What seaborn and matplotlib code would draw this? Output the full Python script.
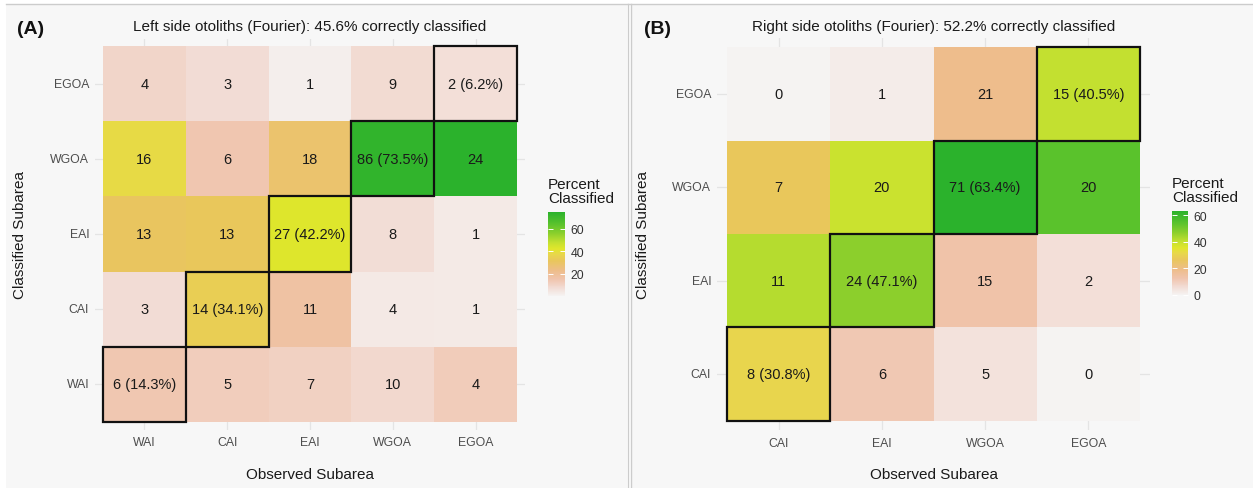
import numpy as np
import pandas as pd
import matplotlib
matplotlib.use("Agg")
import matplotlib.pyplot as plt
import seaborn as sns
from matplotlib.colors import LinearSegmentedColormap
from matplotlib.patches import Rectangle

plt.rcParams["font.family"] = ["Liberation Sans", "DejaVu Sans"]

# Classification counts: rows = classified subarea (top to bottom), columns = observed subarea
left_observed = ["WAI", "CAI", "EAI", "WGOA", "EGOA"]
left_classified = ["EGOA", "WGOA", "EAI", "CAI", "WAI"]
left_counts = [
    [4, 3, 1, 9, 2],
    [16, 6, 18, 86, 24],
    [13, 13, 27, 8, 1],
    [3, 14, 11, 4, 1],
    [6, 5, 7, 10, 4],
]

right_observed = ["CAI", "EAI", "WGOA", "EGOA"]
right_classified = ["EGOA", "WGOA", "EAI", "CAI"]
right_counts = [
    [0, 1, 21, 15],
    [7, 20, 71, 20],
    [11, 24, 15, 2],
    [8, 6, 5, 0],
]

left_ticks = [20, 40, 60]
right_ticks = [0, 20, 40, 60]

# White -> pink -> tan -> yellow -> green fill scale
cmap = LinearSegmentedColormap.from_list(
    "pct",
    [
        (0.00, "#f5f3f2"),
        (0.10, "#f2dbd3"),
        (0.20, "#f0c4ad"),
        (0.30, "#eebd8a"),
        (0.42, "#e9c65c"),
        (0.50, "#e8d84a"),
        (0.56, "#e0e62c"),
        (0.64, "#c3e030"),
        (0.74, "#8ed02c"),
        (0.85, "#5cc32c"),
        (1.00, "#2bb22c"),
    ],
)

W, H = 1253, 489
BG = "#f7f7f7"
fig = plt.figure(figsize=(W / 100, H / 100), dpi=100, facecolor=BG)


def fx(px):
    return px / W


def fy(py):
    return 1 - py / H


# Frame: white margins, thin grey rules and the divider between panels
fig.patches.append(Rectangle((0, fy(4.5)), 1, 4.5 / H, transform=fig.transFigure, fc="white", ec="none", zorder=0))
fig.patches.append(Rectangle((0, 0), fx(6), 1, transform=fig.transFigure, fc="white", ec="none", zorder=0))
fig.patches.append(Rectangle((fx(627), 0), 5 / W, 1, transform=fig.transFigure, fc="white", ec="none", zorder=0))
fig.add_artist(plt.Line2D([fx(6), 1], [fy(5), fy(5)], transform=fig.transFigure, color="#cccccc", lw=1))
fig.add_artist(plt.Line2D([fx(628), fx(628)], [0, fy(5)], transform=fig.transFigure, color="#cccccc", lw=1))
fig.add_artist(plt.Line2D([fx(631), fx(631)], [0, fy(5)], transform=fig.transFigure, color="#cccccc", lw=1))


def confusion_panel(box, cbox, counts, observed, classified, side, tag, tag_x, ylab_x, ticks):
    x0, y0, x1, y1 = box
    ax = fig.add_axes([fx(x0), fy(y1), (x1 - x0) / W, (y1 - y0) / H])
    cx0, cy0, cx1, cy1 = cbox
    cax = fig.add_axes([fx(cx0), fy(cy1), (cx1 - cx0) / W, (cy1 - cy0) / H])

    df = pd.DataFrame(counts, index=classified, columns=observed)
    pct = df / df.sum(axis=0) * 100
    correct = sum(df.loc[c, c] for c in observed if c in classified) / df.values.sum() * 100

    annot = np.empty(df.shape, dtype=object)
    for i, r in enumerate(classified):
        for j, c in enumerate(observed):
            n = df.iloc[i, j]
            annot[i, j] = f"{n} ({pct.iloc[i, j]:.1f}%)" if r == c else f"{n}"

    sns.heatmap(
        pct, ax=ax, cbar_ax=cax, cmap=cmap, vmin=0, vmax=pct.values.max(),
        annot=annot, fmt="", linewidths=0,
        annot_kws=dict(size=10.5, color="#1a1a1a"),
        cbar_kws=dict(ticks=ticks),
    )

    nr, nc = df.shape
    ax.set_xlim(-0.1, nc + 0.1)
    ax.set_ylim(nr + 0.1, -0.1)
    ax.set_facecolor(BG)
    ax.set_axisbelow(True)
    ax.grid(True, color="#e4e4e4", lw=0.9)
    for s in ax.spines.values():
        s.set_visible(False)
    ax.tick_params(length=0, labelsize=8.8, labelcolor="#4d4d4d")
    ax.tick_params(axis="x", pad=5, rotation=0)
    ax.tick_params(axis="y", pad=4, rotation=0)
    ax.set_xlabel("")
    ax.set_ylabel("")

    # Outline the correctly classified cells
    for i, r in enumerate(classified):
        for j, c in enumerate(observed):
            if r == c:
                ax.add_patch(Rectangle((j, i), 1, 1, fill=False, ec="#111111", lw=1.6, zorder=4, clip_on=False))

    cb = ax.collections[0].colorbar
    cb.outline.set_visible(False)
    cax.tick_params(color="white", labelcolor="#333333", direction="in", length=3.5, width=0.7,
                    left=True, right=True, labelsize=8.8, pad=4)

    xc = (x0 + x1) / 2
    fig.text(fx(xc), fy(27), f"{side} side otoliths (Fourier): {correct:.1f}% correctly classified",
             ha="center", va="center", fontsize=11, color="#1a1a1a")
    fig.text(fx(tag_x), fy(30), tag, ha="left", va="center", fontsize=14, fontweight="bold", color="#111111")
    fig.text(fx(xc), fy(475), "Observed Subarea", ha="center", va="center", fontsize=11, color="#1a1a1a")
    fig.text(fx(ylab_x), fy((y0 + y1) / 2), "Classified Subarea", ha="center", va="center",
             rotation=90, fontsize=11, color="#1a1a1a")
    fig.text(fx(cx0), fy(cy0 - 7), "Percent\nClassified", ha="left", va="bottom", fontsize=11,
             linespacing=1.0, color="#1a1a1a")


confusion_panel((94.7, 39.5, 525.3, 430.5), (548, 213, 565, 297),
                left_counts, left_observed, left_classified, "Left", "(A)", 17, 20, left_ticks)
confusion_panel((716.7, 38.7, 1150.3, 431.3), (1172, 212, 1188, 296),
                right_counts, right_observed, right_classified, "Right", "(B)", 644, 643, right_ticks)

fig.savefig("out.png", dpi=100, facecolor=BG)
